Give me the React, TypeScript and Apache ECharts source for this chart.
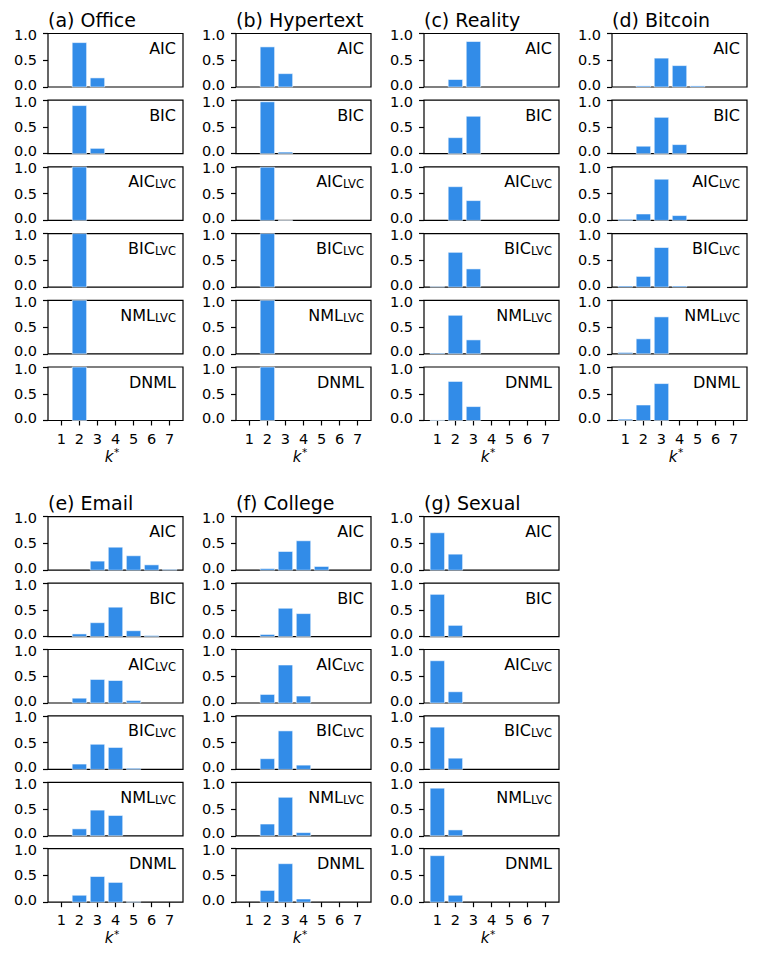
import React, { useEffect, useRef } from "react";
import * as echarts from "echarts";

// k* candidates
const K = [1, 2, 3, 4, 5, 6, 7];

// criteria (row labels): [main, subscript]
const CRITERIA: [string, string][] = [
  ["AIC", ""],
  ["BIC", ""],
  ["AIC", "LVC"],
  ["BIC", "LVC"],
  ["NML", "LVC"],
  ["DNML", ""],
];

// dataset titles
const TITLES = [
  "(a) Office",
  "(b) Hypertext",
  "(c) Reality",
  "(d) Bitcoin",
  "(e) Email",
  "(f) College",
  "(g) Sexual",
];

// frequency of estimated k* for each criterion (rows) and k = 1..7 (columns)
const office = [
  [0, 0.83, 0.17, 0, 0, 0, 0],
  [0, 0.9, 0.1, 0, 0, 0, 0],
  [0, 1.0, 0, 0, 0, 0, 0],
  [0, 1.0, 0, 0, 0, 0, 0],
  [0, 1.0, 0, 0, 0, 0, 0],
  [0, 1.0, 0, 0, 0, 0, 0],
];
const hypertext = [
  [0, 0.75, 0.25, 0, 0, 0, 0],
  [0, 0.97, 0.03, 0, 0, 0, 0],
  [0, 0.995, 0.005, 0, 0, 0, 0],
  [0, 1.0, 0, 0, 0, 0, 0],
  [0, 1.0, 0, 0, 0, 0, 0],
  [0, 1.0, 0, 0, 0, 0, 0],
];
const reality = [
  [0, 0.14, 0.85, 0, 0, 0, 0],
  [0, 0.3, 0.7, 0, 0, 0, 0],
  [0, 0.63, 0.37, 0, 0, 0, 0],
  [0.01, 0.65, 0.34, 0, 0, 0, 0],
  [0.015, 0.72, 0.26, 0, 0, 0, 0],
  [0.01, 0.73, 0.26, 0, 0, 0, 0],
];
const bitcoin = [
  [0, 0.02, 0.54, 0.4, 0.02, 0, 0],
  [0, 0.14, 0.68, 0.17, 0, 0, 0],
  [0.02, 0.12, 0.77, 0.09, 0, 0, 0],
  [0.02, 0.2, 0.74, 0.02, 0, 0, 0],
  [0.025, 0.28, 0.69, 0, 0, 0, 0],
  [0.025, 0.29, 0.69, 0, 0, 0, 0],
];
const email = [
  [0, 0, 0.17, 0.43, 0.27, 0.1, 0.015],
  [0, 0.05, 0.26, 0.55, 0.11, 0.02, 0],
  [0, 0.09, 0.44, 0.42, 0.045, 0, 0],
  [0, 0.1, 0.47, 0.41, 0.02, 0, 0],
  [0, 0.13, 0.48, 0.38, 0, 0, 0],
  [0, 0.13, 0.48, 0.37, 0.01, 0, 0],
];
const college = [
  [0, 0.03, 0.35, 0.55, 0.07, 0, 0],
  [0, 0.04, 0.53, 0.43, 0, 0, 0],
  [0, 0.16, 0.71, 0.13, 0, 0, 0],
  [0, 0.2, 0.72, 0.08, 0, 0, 0],
  [0, 0.22, 0.72, 0.06, 0, 0, 0],
  [0, 0.22, 0.72, 0.06, 0, 0, 0],
];
const sexual = [
  [0.7, 0.3, 0, 0, 0, 0, 0],
  [0.79, 0.21, 0, 0, 0, 0, 0],
  [0.79, 0.21, 0, 0, 0, 0, 0],
  [0.79, 0.21, 0, 0, 0, 0, 0],
  [0.89, 0.11, 0, 0, 0, 0, 0],
  [0.87, 0.13, 0, 0, 0, 0, 0],
];

const DATASETS = [office, hypertext, reality, bitcoin, email, college, sexual];

// layout
const W = 763;
const H = 963;
const COL_LEFT = [48, 236, 424, 612];
const PANEL_W = 135;
const PANEL_H = 53.5;
const SECTION_TOP = [33.5, 516.7];
const ROW_PITCH = [66.7, 66.4];
const FONT = "DejaVu Sans";
const BAR = "#328CE8";
const EDGE = "rgba(255,255,255,0.55)";

const yLabelRich = {
  lo: { fontSize: 14.5, fontFamily: FONT, color: "#000", lineHeight: 12, padding: [0, 0, 5, 0] },
  mid: { fontSize: 14.5, fontFamily: FONT, color: "#000", lineHeight: 12 },
  hi: { fontSize: 14.5, fontFamily: FONT, color: "#000", lineHeight: 12, padding: [3, 0, 0, 0] },
};

function buildOption() {
  const grids: any[] = [];
  const xAxes: any[] = [];
  const yAxes: any[] = [];
  const series: any[] = [];
  const graphics: any[] = [];
  let idx = 0;

  DATASETS.forEach((ds, d) => {
    const section = d < 4 ? 0 : 1;
    const col = d < 4 ? d : d - 4;
    const left = COL_LEFT[col];
    const top0 = SECTION_TOP[section];

    graphics.push({
      type: "text",
      x: left,
      y: top0 - 13.5,
      style: {
        text: TITLES[d],
        fontSize: 19,
        fontFamily: FONT,
        fill: "#000",
        align: "left",
        verticalAlign: "middle",
      },
    });

    ds.forEach((vals, r) => {
      const top = top0 + r * ROW_PITCH[section];
      const isBottom = r === ds.length - 1;
      grids.push({
        left,
        top,
        width: PANEL_W,
        height: PANEL_H,
        show: true,
        borderColor: "#000",
        borderWidth: 1.2,
        backgroundColor: "transparent",
      });
      xAxes.push({
        gridIndex: idx,
        type: "value",
        min: 0.26,
        max: 7.74,
        splitLine: { show: false },
        axisLine: { show: false },
        axisTick: {
          show: isBottom,
          customValues: K,
          length: 5,
          lineStyle: { color: "#000", width: 1.2 },
        },
        axisLabel: {
          show: isBottom,
          customValues: K,
          margin: 11.5,
          fontSize: 14.5,
          lineHeight: 13,
          fontFamily: FONT,
          color: "#000",
        },
      });
      yAxes.push({
        gridIndex: idx,
        type: "value",
        min: 0,
        max: 1,
        interval: 0.5,
        splitLine: { show: false },
        axisLine: { show: false },
        axisTick: {
          show: true,
          length: 5,
          lineStyle: { color: "#000", width: 1.2 },
        },
        axisLabel: {
          margin: 11,
          fontSize: 14.5,
          lineHeight: 12,
          fontFamily: FONT,
          color: "#000",
          formatter: (v: number) => {
            const key = v <= 0 ? "lo" : v >= 1 ? "hi" : "mid";
            return `{${key}|${v.toFixed(1)}}`;
          },
          rich: yLabelRich,
        },
      });
      series.push({
        type: "custom",
        xAxisIndex: idx,
        yAxisIndex: idx,
        clip: false,
        encode: { x: 0, y: 1 },
        data: K.map((k, i) => [k, vals[i]]).filter((p) => p[1] > 0),
        renderItem: (params: any, api: any) => {
          const x = api.value(0);
          const y = api.value(1);
          const p0 = api.coord([x - 0.4, y]);
          const p1 = api.coord([x + 0.4, 0]);
          return {
            type: "rect",
            shape: {
              x: p0[0],
              y: p0[1],
              width: p1[0] - p0[0],
              height: p1[1] - p0[1],
            },
            style: { fill: BAR, stroke: EDGE, lineWidth: 1 },
          };
        },
      });

      const [main, sub] = CRITERIA[r];
      graphics.push({
        type: "text",
        x: left + PANEL_W - 7,
        y: top + 15,
        z: 10,
        style: {
          text: sub ? `{m|${main}}{s|${sub}}` : `{m|${main}}`,
          align: "right",
          verticalAlign: "middle",
          fill: "#000",
          rich: {
            m: { fontSize: 16, fontFamily: FONT, fill: "#000", lineHeight: 17 },
            s: {
              fontSize: 11.5,
              fontFamily: FONT,
              fill: "#000",
              lineHeight: 11,
              verticalAlign: "bottom",
            },
          },
        },
      });

      if (isBottom) {
        const cx = left + PANEL_W / 2 - 3;
        const cy = top + PANEL_H + 36;
        graphics.push({
          type: "text",
          x: cx + 1,
          y: cy,
          style: {
            text: "k",
            align: "right",
            verticalAlign: "middle",
            fontSize: 15,
            lineHeight: 13,
            fontFamily: FONT,
            fontStyle: "italic",
            fill: "#000",
          },
        });
        graphics.push({
          type: "text",
          x: cx + 1.5,
          y: cy - 4.5,
          style: {
            text: "*",
            align: "left",
            verticalAlign: "middle",
            fontSize: 10.5,
            lineHeight: 8,
            fontFamily: FONT,
            fill: "#000",
          },
        });
      }
      idx++;
    });
  });

  return {
    animation: false,
    backgroundColor: "#fff",
    grid: grids,
    xAxis: xAxes,
    yAxis: yAxes,
    series,
    graphic: graphics,
  };
}

export default function App() {
  const ref = useRef<HTMLDivElement>(null);
  useEffect(() => {
    if (!ref.current) return;
    const chart = echarts.init(ref.current, undefined, { renderer: "svg" });
    chart.setOption(buildOption() as any);
    return () => chart.dispose();
  }, []);
  return (
    <div
      ref={ref}
      style={{ position: "absolute", left: 0, top: 0, width: W, height: H }}
    />
  );
}
